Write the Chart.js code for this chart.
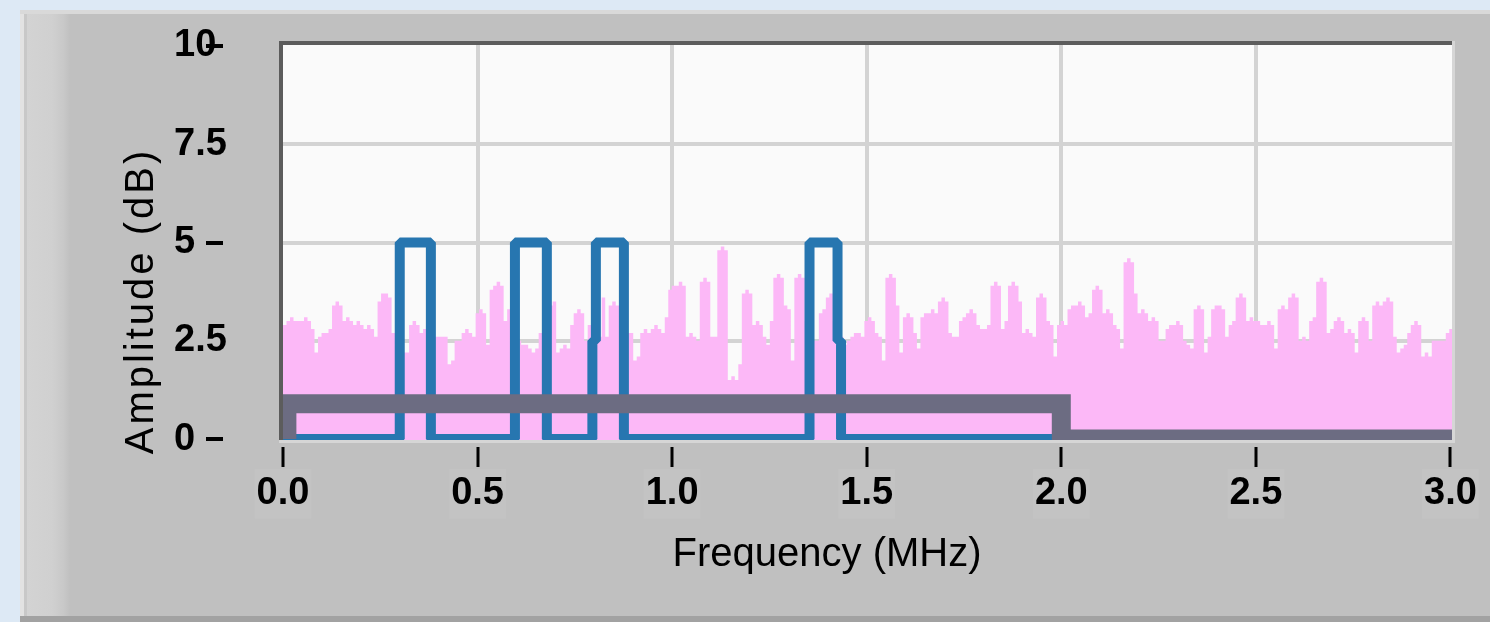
<!DOCTYPE html>
<html>
<head>
<meta charset="utf-8">
<title>Frequency spectrum</title>
<script src="https://cdn.jsdelivr.net/npm/chart.js@4.4.1/dist/chart.umd.min.js"></script>
<style>
	html, body { margin: 0; padding: 0; }
	body { width: 1490px; height: 622px; background: #dde9f5; position: relative; overflow: hidden; }
	.panel {
		position: absolute; left: 20px; top: 10px; width: 1470px; height: 612px;
		box-sizing: border-box;
		border-top: 4px solid #d9d9d9;
		border-bottom: 6px solid #a2a2a2;
		background: linear-gradient(to right, #e2e2e2 0, #e2e2e2 4px, #c8c8c8 4px, #c8c8c8 7px, #d3d3d3 7px, #d0d0d0 32px, #c8c8c8 44px, #c0c0c0 50px);
	}
	#spectrum { position: absolute; left: 0; top: 0; }
</style>
</head>
<body>
<div class="panel"></div>
<canvas id="spectrum" width="1490" height="622"></canvas>
<script>
(function () {

	'use strict';

	var FREQ_TICKS = [0, 0.5, 1.0, 1.5, 2.0, 2.5, 3.0];
	var AMP_TICKS  = [0, 2.5, 5, 7.5, 10];
	var AMP_MAJOR  = [0, 5, 10];

	var X_TITLE = 'Frequency (MHz)';
	var Y_TITLE = 'Amplitude (dB)';

	// noise spectrum, one value per bin
	var NOISE_BIN_MHZ = 0.009;
	var NOISE_DB = [
		2.9, 3.0, 3.1, 3.0, 3.0, 3.0, 3.1, 3.0, 2.8, 2.2,
		2.6, 2.7, 2.7, 2.8, 3.4, 3.5, 3.4, 3.0, 3.1, 3.0,
		2.9, 3.0, 2.9, 2.8, 2.9, 2.8, 2.6, 3.5, 3.7, 3.7,
		3.6, 2.7, 2.7, 2.5, 2.2, 2.2, 2.9, 3.0, 2.9, 2.7,
		2.8, 2.7, 2.8, 2.6, 2.6, 2.6, 2.6, 1.9, 2.0, 2.5,
		2.5, 2.7, 2.8, 2.7, 2.6, 3.2, 3.3, 3.2, 2.4, 3.8,
		3.9, 4.0, 3.9, 3.0, 3.3, 2.8, 2.6, 2.5, 2.4, 2.4,
		2.3, 2.2, 2.3, 2.7, 3.0, 3.2, 3.4, 3.5, 2.2, 2.3,
		2.4, 2.3, 2.9, 3.2, 3.3, 3.2, 2.5, 2.9, 2.8, 2.6,
		2.6, 3.6, 2.6, 3.4, 3.5, 3.4, 3.0, 2.8, 2.7, 2.7,
		2.0, 2.1, 2.7, 2.8, 2.7, 2.8, 2.9, 2.8, 2.7, 3.1,
		3.8, 3.9, 3.9, 4.0, 3.9, 2.6, 2.7, 2.6, 2.5, 4.0,
		4.1, 4.0, 2.6, 2.6, 4.8, 4.9, 4.8, 1.5, 1.6, 1.5,
		1.9, 3.7, 3.8, 3.7, 2.9, 3.0, 2.9, 2.6, 2.4, 3.0,
		4.1, 4.2, 4.1, 3.4, 3.3, 2.0, 4.1, 4.2, 4.1, 3.0,
		2.6, 2.5, 2.5, 3.2, 3.3, 3.6, 3.7, 3.0, 2.8, 2.6,
		2.4, 2.5, 2.6, 2.7, 2.7, 2.6, 3.0, 3.1, 3.0, 2.7,
		2.6, 2.0, 4.1, 4.2, 4.1, 3.4, 2.2, 3.1, 3.2, 3.1,
		2.7, 2.3, 3.1, 3.2, 3.2, 3.3, 3.2, 3.5, 3.6, 3.5,
		2.7, 2.6, 2.6, 3.0, 3.1, 3.2, 3.3, 3.2, 2.9, 2.8,
		2.8, 2.9, 3.9, 4.0, 3.9, 2.8, 3.0, 3.9, 4.0, 3.9,
		3.5, 2.7, 2.8, 2.7, 2.6, 3.6, 3.7, 3.6, 3.0, 2.9,
		2.1, 2.9, 3.0, 2.9, 3.3, 3.4, 3.4, 3.5, 3.4, 3.1,
		3.2, 3.8, 3.9, 3.8, 3.2, 3.3, 3.2, 2.9, 2.8, 2.3,
		4.5, 4.6, 4.5, 3.7, 3.2, 3.3, 3.2, 3.0, 3.1, 3.0,
		2.5, 2.5, 2.8, 2.9, 2.9, 3.0, 2.9, 2.5, 2.4, 2.3,
		3.3, 3.4, 3.3, 2.2, 2.6, 3.3, 3.4, 3.4, 3.3, 2.6,
		2.9, 3.0, 3.6, 3.7, 3.6, 3.0, 3.1, 3.0, 3.0, 2.9,
		2.9, 3.0, 2.9, 2.3, 3.3, 3.4, 3.3, 3.6, 3.7, 3.6,
		2.5, 2.6, 2.5, 3.0, 3.1, 4.0, 4.1, 4.0, 2.7, 2.8,
		3.0, 3.1, 3.0, 2.7, 2.8, 2.7, 2.2, 3.0, 3.1, 3.0,
		2.5, 3.4, 3.5, 3.4, 3.5, 3.6, 3.5, 2.6, 2.2, 2.3,
		2.4, 2.7, 2.9, 3.0, 2.9, 2.1, 2.2, 2.1, 2.5, 2.5,
		2.5, 2.5, 2.7, 2.8
	];

	// blue pulse mask
	var MASK_FREQ = [0, 0.300, 0.300, 0.380, 0.380, 0.596, 0.596, 0.678, 0.678, 0.795, 0.795, 0.804, 0.804, 0.876, 0.876, 1.353, 1.353, 1.425, 1.425, 1.434, 1.434, 2.0];
	var MASK_DB   = [0, 0, 5, 5, 0, 0, 5, 5, 0, 0, 2.5, 2.5, 5, 5, 0, 0, 5, 5, 2.5, 2.5, 0, 0];

	// gray limit line
	var LIMIT_FREQ = [0.01, 0.01, 2.0, 2.0, 3.004];
	var LIMIT_DB   = [0, 0.9, 0.9, 0, 0];

	var PLOT_BG   = '#fafafa';
	var GRID      = '#d3d3d3';
	var PINK      = '#fcb8f7';
	var BLUE      = '#2776b0';
	var SLATE     = '#6c6c82';
	var FONT      = '"Liberation Sans", Arial, sans-serif';
	var CLEAR     = 'rgba(0,0,0,0)';

	function toPoints(xs, ys) {
		return xs.map(function (x, i) { return {x: x, y: ys[i]}; });
	}

	var noisePoints = NOISE_DB.map(function (db, i) {
		return {x: i * NOISE_BIN_MHZ, y: db};
	});
	noisePoints.push({x: NOISE_DB.length * NOISE_BIN_MHZ, y: NOISE_DB[NOISE_DB.length - 1]});

	var plotFrame = {
		id: 'plotFrame',
		beforeDraw: function (chart) {
			var ctx = chart.ctx, a = chart.chartArea;
			ctx.save();
			ctx.fillStyle = PLOT_BG;
			ctx.fillRect(a.left, a.top, a.right - a.left, a.bottom - a.top);
			ctx.fillStyle = '#5c5c5c';
			ctx.fillRect(a.left - 4, a.top - 4, a.right - a.left + 4, 4);
			ctx.fillRect(a.left - 4, a.top - 4, 4, a.bottom - a.top + 4);
			ctx.fillStyle = '#d6d6d6';
			ctx.fillRect(a.left - 4, a.bottom, a.right - a.left + 7, 3);
			ctx.fillRect(a.right, a.top - 4, 3, a.bottom - a.top + 7);
			ctx.restore();
		}
	};

	var axisTitles = {
		id: 'axisTitles',
		afterDraw: function (chart) {
			var ctx = chart.ctx, a = chart.chartArea;
			ctx.save();
			ctx.fillStyle = '#000';
			ctx.font = '40px ' + FONT;
			ctx.textAlign = 'center';
			ctx.textBaseline = 'alphabetic';
			ctx.fillText(X_TITLE, a.left + 544, a.bottom + 126);
			ctx.translate(a.left - 130, a.top + 256);
			ctx.rotate(-Math.PI / 2);
			ctx.letterSpacing = '3px';
			ctx.fillText(Y_TITLE, 0, 0);
			ctx.restore();
		}
	};

	function hideAt(values, color) {
		return function (c) {
			return (c.tick && values.indexOf(c.tick.value) !== -1) ? CLEAR : color;
		};
	}

	function showAt(values, color) {
		return function (c) {
			return (c.tick && values.indexOf(c.tick.value) !== -1) ? color : CLEAR;
		};
	}

	Chart.defaults.font.family = FONT;
	Chart.defaults.color = '#000';

	new Chart(document.getElementById('spectrum'), {
		type: 'line',
		data: {
			datasets: [{
				label: 'Limit',
				data: toPoints(LIMIT_FREQ, LIMIT_DB),
				borderColor: SLATE,
				borderWidth: 19,
				borderJoinStyle: 'miter',
				pointRadius: 0,
				fill: false,
				clip: 0,
				order: 1
			}, {
				label: 'Mask',
				data: toPoints(MASK_FREQ, MASK_DB),
				borderColor: BLUE,
				borderWidth: 10,
				borderJoinStyle: 'bevel',
				pointRadius: 0,
				fill: false,
				clip: 0,
				order: 2
			}, {
				label: 'Noise',
				data: noisePoints,
				stepped: 'before',
				borderWidth: 0,
				borderColor: CLEAR,
				backgroundColor: PINK,
				pointRadius: 0,
				fill: 'start',
				clip: 0,
				order: 3
			}]
		},
		options: {
			responsive: false,
			animation: false,
			events: [],
			layout: { padding: { left: 174, top: 45, right: 38, bottom: 0 } },
			plugins: {
				legend: { display: false },
				tooltip: { enabled: false }
			},
			scales: {
				x: {
					type: 'linear',
					min: 0,
					max: 3.004,
					afterBuildTicks: function (scale) {
						scale.ticks = FREQ_TICKS.map(function (v) { return {value: v}; });
					},
					afterFit: function (scale) { scale.height = 182; },
					border: { display: false },
					grid: {
						color: hideAt([0, 3], GRID),
						lineWidth: 4,
						tickColor: '#000',
						tickWidth: 3,
						tickLength: 27,
						tickBorderDash: [0, 7, 20, 200]
					},
					ticks: {
						autoSkip: false,
						maxRotation: 0,
						padding: 4,
						font: { size: 38, weight: 'bold' },
						showLabelBackdrop: true,
						backdropColor: '#c3c3c3',
						backdropPadding: 2,
						callback: function (v) { return v.toFixed(1); }
					}
				},
				y: {
					type: 'linear',
					min: -0.025,
					max: 10.025,
					afterBuildTicks: function (scale) {
						scale.ticks = AMP_TICKS.map(function (v) { return {value: v}; });
					},
					afterFit: function (scale) { scale.width = 109; },
					border: { display: false },
					grid: {
						color: hideAt([0, 10], GRID),
						lineWidth: 4,
						tickColor: showAt(AMP_MAJOR, '#000'),
						tickWidth: 4,
						tickLength: 77,
						tickBorderDash: [17, 200]
					},
					ticks: {
						crossAlign: 'far',
						font: { size: 38, weight: 'bold' },
						callback: function (v) { return String(v); }
					}
				}
			}
		},
		plugins: [plotFrame, axisTitles]
	});

})();
</script>
</body>
</html>
